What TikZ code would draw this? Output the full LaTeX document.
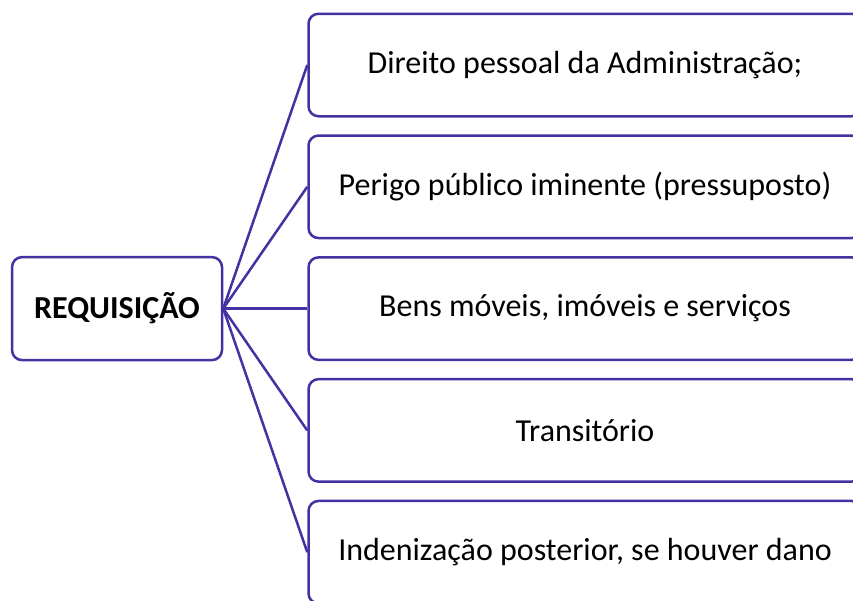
\documentclass[tikz,border=0pt]{standalone}
\usepackage{fontspec}
\setmainfont{Carlito}
\definecolor{roxo}{RGB}{66,50,162}

\begin{document}
\begin{tikzpicture}[x=1pt,y=1pt,
        caixa/.style={draw=roxo,line width=2.5pt,rounded corners=10pt,fill=white,text=black,font=\fontsize{32}{38}\selectfont},]
        \useasboundingbox (0,0) rectangle (853,-600);
        \clip (0,0) rectangle (853,-600);

        \node[caixa,minimum width=210pt,minimum height=103pt] (req) at (117,-308.6) {\textbf{REQUISIÇÃO}};
        \foreach \i/\t in {1/{Direito pessoal da Administração;},2/{Perigo público iminente (pressuposto)},3/{Bens móveis, imóveis e serviços},4/{Transitório},5/{Indenização posterior, se houver dano}}
        \node[caixa,minimum width=553pt,minimum height=102.5pt] (item\i) at (585,{-65-121.8*(\i-1)}) {\t};
        \foreach \i in {1,...,5}
        \draw[line width=2.5pt,roxo] (req.east) -- (item\i.west);

    \end{tikzpicture}
\end{document}
